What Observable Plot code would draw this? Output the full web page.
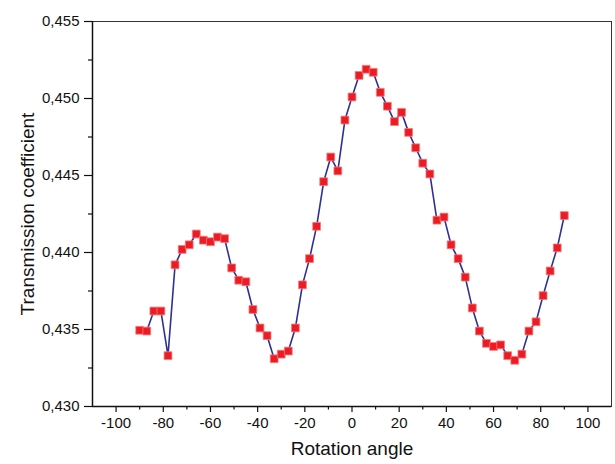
<!DOCTYPE html>
<html>
<head>
<meta charset="utf-8">
<script src="https://cdn.jsdelivr.net/npm/d3@7"></script>
<script src="https://cdn.jsdelivr.net/npm/@observablehq/plot@0.6"></script>
<style>
  html, body { margin: 0; padding: 0; background: #ffffff; }
  #chart { width: 615px; height: 464px; }
</style>
</head>
<body>
<div id="chart"></div>
<script>
const angles = [-90, -87, -84, -81, -78, -75, -72, -69, -66, -63, -60, -57, -54, -51, -48, -45, -42, -39, -36, -33, -30, -27, -24, -21, -18, -15, -12, -9, -6, -3, 0, 3, 6, 9, 12, 15, 18, 21, 24, 27, 30, 33, 36, 39, 42, 45, 48, 51, 54, 57, 60, 63, 66, 69, 72, 75, 78, 81, 84, 87, 90];
const transmission = [0.43495, 0.4349, 0.4362, 0.4362, 0.4333, 0.4392, 0.4402, 0.4405, 0.4412, 0.4408, 0.4407, 0.4410, 0.4409, 0.4390, 0.4382, 0.4381, 0.4363, 0.4351, 0.4346, 0.4331, 0.4334, 0.4336, 0.4351, 0.4379, 0.4396, 0.4417, 0.4446, 0.4462, 0.4453, 0.4486, 0.4501, 0.4515, 0.4519, 0.4517, 0.4504, 0.4495, 0.4485, 0.4491, 0.4478, 0.4468, 0.4458, 0.4451, 0.4421, 0.4423, 0.4405, 0.4396, 0.4384, 0.4364, 0.4349, 0.4341, 0.4339, 0.4340, 0.4333, 0.4330, 0.4334, 0.4349, 0.4355, 0.4372, 0.4388, 0.4403, 0.4424];

const xTickValues = [-100, -80, -60, -40, -20, 0, 20, 40, 60, 80, 100];
const xTickLabels = ["-100", "-80", "-60", "-40", "-20", "0", "20", "40", "60", "80", "100"];
const xMinorTicks = [-90, -70, -50, -30, -10, 10, 30, 50, 70, 90];
const yTickValues = [0.430, 0.435, 0.440, 0.445, 0.450, 0.455];
const yTickLabels = ["0,430", "0,435", "0,440", "0,445", "0,450", "0,455"];
const yMinorTicks = [0.4325, 0.4375, 0.4425, 0.4475, 0.4525];
const xTitle = "Rotation angle";
const yTitle = "Transmission coefficient";

const data = angles.map((a, i) => ({angle: a, t: transmission[i]}));
const xLabelMap = new Map(xTickValues.map((v, i) => [v, xTickLabels[i]]));
const yLabelMap = new Map(yTickValues.map((v, i) => [v, yTickLabels[i]]));

const chart = Plot.plot({
  width: 615,
  height: 464,
  marginLeft: 92,
  marginRight: 4,
  marginTop: 21,
  marginBottom: 58,
  style: {fontFamily: "'Liberation Sans', Arial, sans-serif", background: "#ffffff", color: "#111"},
  x: {domain: [-110, 110]},
  y: {domain: [0.430, 0.455]},
  marks: [
    Plot.frame({stroke: "#333", strokeWidth: 1}),
    Plot.axisX(xTickValues, {anchor: "bottom", tickSize: 6, tickPadding: 5, fontSize: 15, strokeWidth: 1.2, tickFormat: d => xLabelMap.get(d), label: null}),
    Plot.axisX(xMinorTicks, {anchor: "bottom", tickSize: 3.5, strokeWidth: 1.2, tickFormat: () => "", label: null}),
    Plot.axisY(yTickValues, {anchor: "left", tickSize: 8, tickPadding: 5, fontSize: 15, strokeWidth: 1.2, tickFormat: d => yLabelMap.get(d), label: null}),
    Plot.axisY(yMinorTicks, {anchor: "left", tickSize: 4, strokeWidth: 1.2, tickFormat: () => "", label: null}),
    Plot.ruleX([-110], {stroke: "#111", strokeWidth: 1.5}),
    Plot.ruleY([0.430], {stroke: "#111", strokeWidth: 1.5}),
    Plot.line(data, {x: "angle", y: "t", stroke: "#2e3192", strokeWidth: 1.6}),
    Plot.dot(data, {x: "angle", y: "t", symbol: "square", r: 4.4, fill: "#ed1c24", stroke: "#f47b7b", strokeWidth: 0.8}),
    Plot.text([xTitle], {frameAnchor: "bottom", dy: 48, fontSize: 19, fill: "#111"}),
    Plot.text([yTitle], {frameAnchor: "left", dx: -65, rotate: -90, textAnchor: "middle", fontSize: 19, fill: "#111"})
  ]
});
document.getElementById("chart").appendChild(chart);
</script>
</body>
</html>
